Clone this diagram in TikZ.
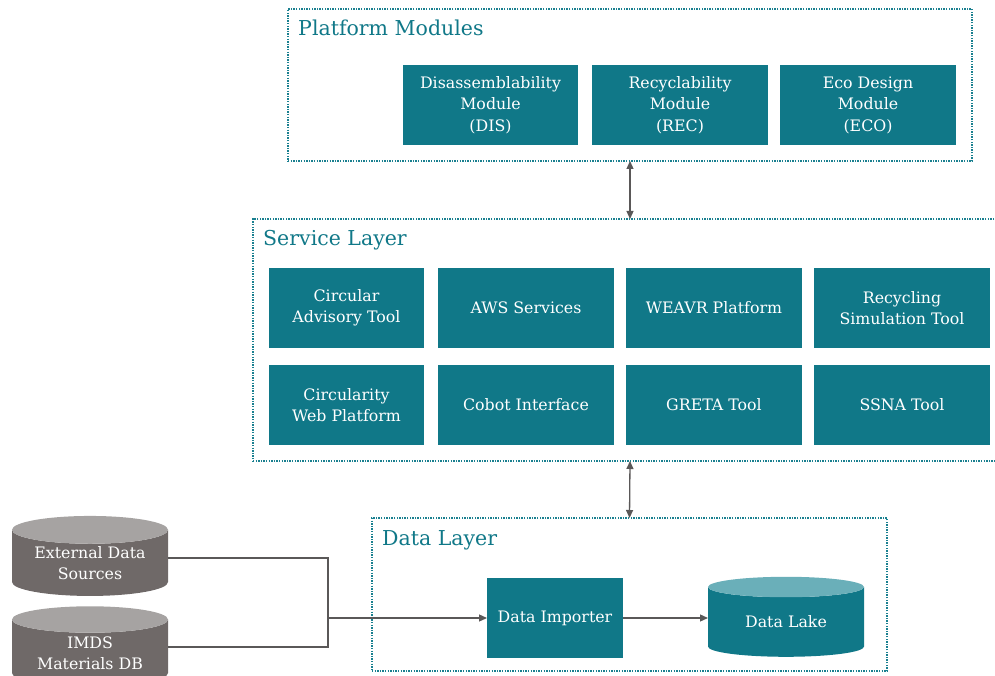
\documentclass[tikz,border=0pt]{standalone}
\usepackage{fontspec}
\setmainfont{DejaVu Serif}
\usetikzlibrary{positioning,arrows.meta,shapes.geometric}

\definecolor{teal1}{HTML}{107888}
\definecolor{teal2}{HTML}{6AAFB9}
\definecolor{frameteal}{HTML}{1A8090}
\definecolor{stone}{HTML}{6F6968}
\definecolor{stonetop}{HTML}{A6A3A2}
\definecolor{wire}{HTML}{5A5858}

\tikzset{
  layer/.style={draw=frameteal, line width=1.4pt, dash pattern=on 1.4pt off 1.2pt,
    inner sep=0pt, outer sep=0pt},
  layertitle/.style={text=teal1, font=\fontsize{20.5}{24}\selectfont, anchor=west,
    inner sep=0pt},
  module/.style={fill=teal1, text=white, align=center, inner sep=0pt, outer sep=0pt,
    minimum width=176pt, minimum height=80pt,
    font=\fontsize{15.8}{21.5}\selectfont},
  store/.style={cylinder, shape border rotate=90, aspect=0.25,
    cylinder uses custom fill, text=white, align=center, inner sep=0pt, outer sep=0pt,
    minimum width=156pt, minimum height=80pt,
    font=\fontsize{15.8}{21.5}\selectfont},
  link/.style={draw=wire, line width=1.3pt},
  flow/.style={link, -{Triangle[length=8pt,width=7pt]}},
  twoway/.style={link, {Triangle[length=8pt,width=7pt]}-{Triangle[length=8pt,width=7pt]}}
}

\begin{document}
\begin{tikzpicture}[x=1pt,y=-1pt]
\useasboundingbox (0,0) rectangle (995,676);

% layers
\node[layer, minimum width=684pt, minimum height=152pt] (pm) at (630,85) {};
\node[layer, minimum width=754pt, minimum height=242pt] (svc) at (630,340) {};
\node[layer, minimum width=515pt, minimum height=153pt] (data) at (629.5,594.5) {};

\node[layertitle] at ([xshift=10pt,yshift=-19pt]pm.north west) {Platform Modules};
\node[layertitle] at ([xshift=10pt,yshift=-21pt]svc.north west) {Service Layer};
\node[layertitle] at ([xshift=10pt,yshift=-22pt]data.north west) {Data Layer};

% platform modules
\node[module, minimum width=175pt] (dis) at (490.5,105) {Disassemblability\\Module\\(DIS)};
\node[module, right=14pt of dis] (rec) {Recyclability\\Module\\(REC)};
\node[module, right=12pt of rec] (eco) {Eco Design\\Module\\(ECO)};

% service layer
\node[module, minimum width=155pt] (cat) at (346.5,308) {Circular\\Advisory Tool};
\node[module, right=14pt of cat] (aws) {AWS Services};
\node[module, right=12pt of aws] (weavr) {WEAVR Platform};
\node[module, right=12pt of weavr] (rst) {Recycling\\Simulation Tool};
\node[module, minimum width=155pt, below=17pt of cat] (cwp) {Circularity\\Web Platform};
\node[module, below=17pt of aws] (cobot) {Cobot Interface};
\node[module, below=17pt of weavr] (greta) {GRETA Tool};
\node[module, below=17pt of rst] (ssna) {SSNA Tool};

% data layer
\node[module, minimum width=136pt] (imp) at (555,618) {Data Importer};
\node[store, cylinder body fill=teal1, cylinder end fill=teal2] (lake) at (786,622) {Data Lake};

% sources
\node[store, cylinder body fill=stone, cylinder end fill=stonetop] (ext) at (90,563) {External Data\\Sources};
\node[store, cylinder body fill=stone, cylinder end fill=stonetop] (imds) at (90,653) {IMDS\\Materials DB};
\coordinate (join) at (328,618);

\draw[twoway] (pm.south) -- (svc.north);
\draw[twoway] (svc.south) -- (data.north);
\draw[link] ([yshift=5pt]ext.east) -| (join);
\draw[link] ([yshift=6pt]imds.east) -| (join);
\draw[flow] (join) -- (imp.west);
\draw[flow] (imp.east) -- (lake.west |- imp.east);
\end{tikzpicture}
\end{document}
